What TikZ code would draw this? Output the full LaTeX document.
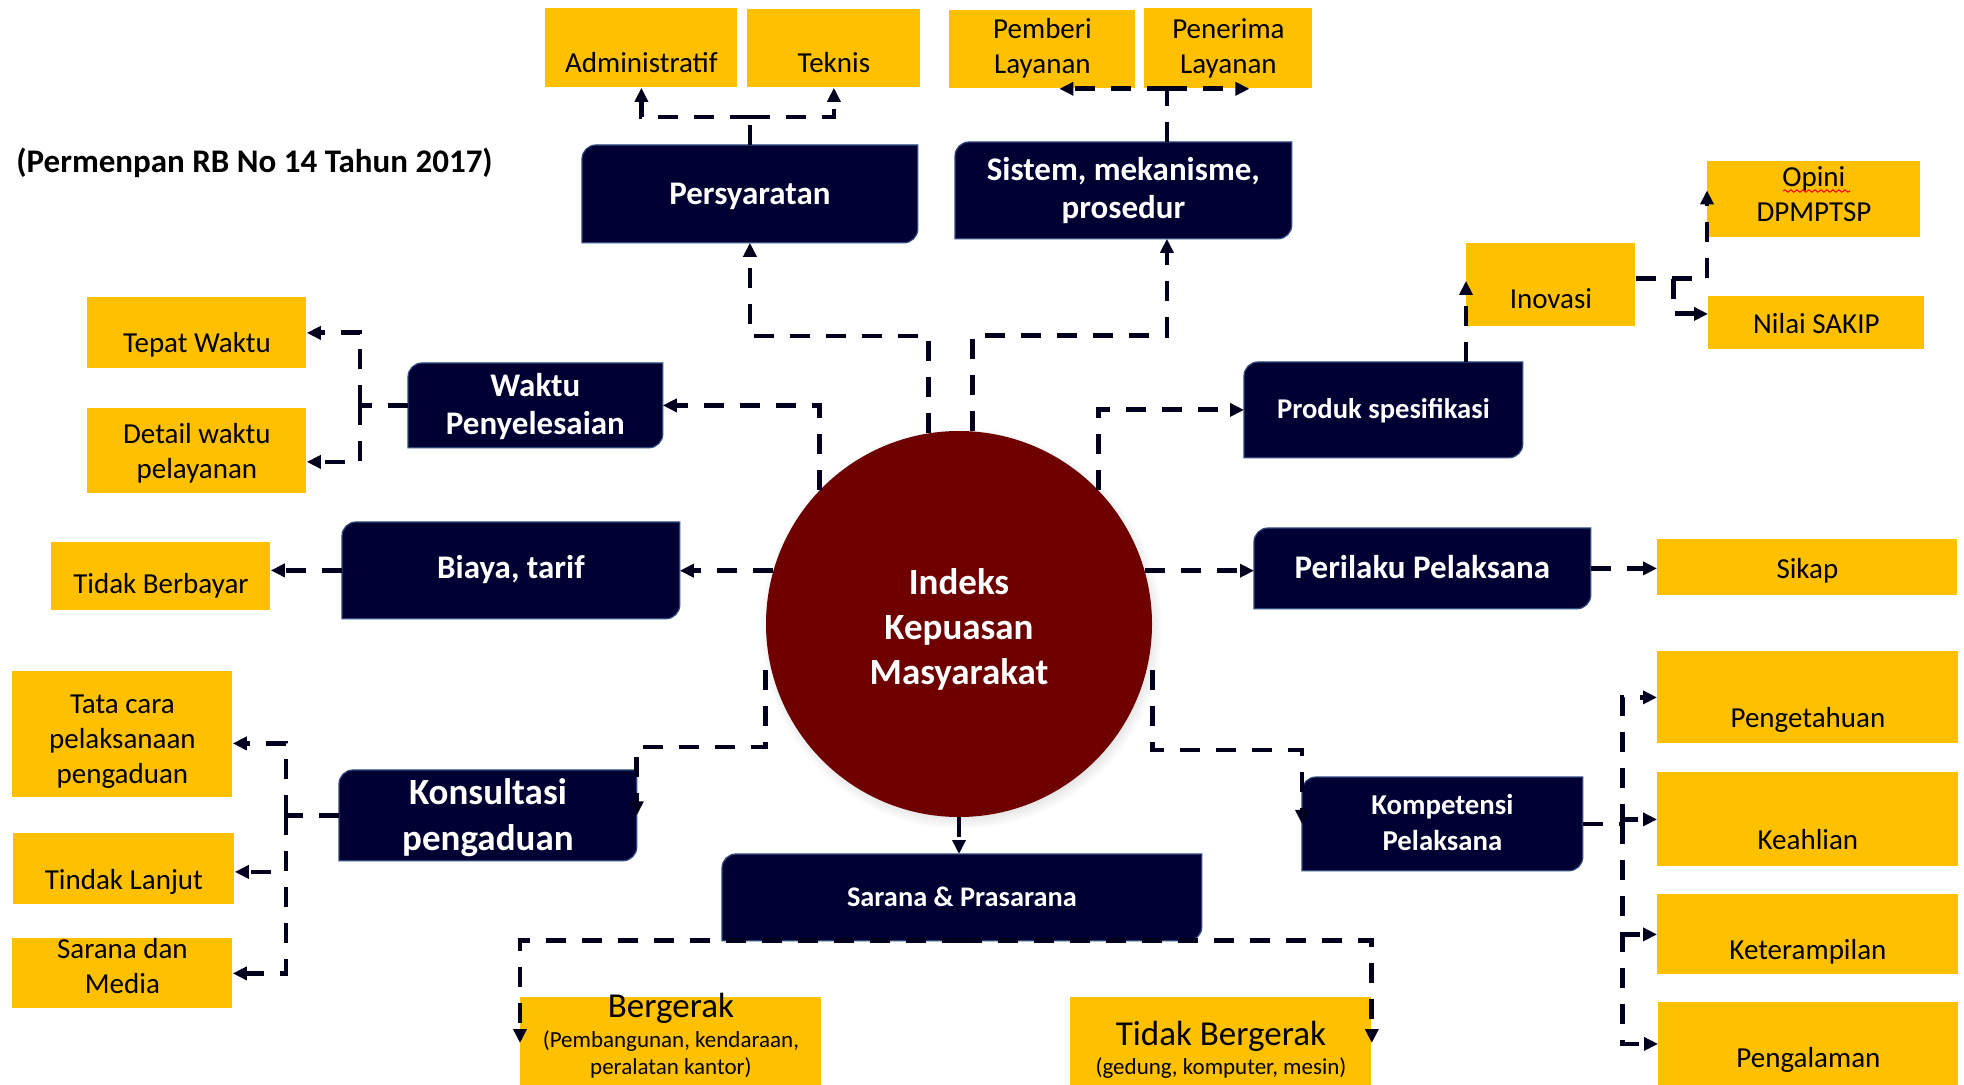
\documentclass[tikz,border=0pt]{standalone}
\usepackage{fontspec}
\setmainfont{Carlito}
\usetikzlibrary{arrows.meta,shadows,backgrounds,decorations.pathmorphing}
\definecolor{gold}{HTML}{FFC000}
\definecolor{navy}{HTML}{000033}
\definecolor{navyedge}{HTML}{2E4A7D}
\definecolor{maroon}{HTML}{6E0000}
\definecolor{lineink}{HTML}{00001E}
\begin{document}
\begin{tikzpicture}[x=0.5pt,y=-0.5pt,
  yel/.style={fill=gold,anchor=north west,inner sep=0pt,align=flush center,font=\fontsize{14.5}{17.5}\selectfont},
  dk/.style={anchor=north west,inner sep=0pt,align=flush center,text=white,font=\bfseries\fontsize{16.5}{19}\selectfont},
  link/.style={draw=lineink,line width=2.4pt,dash pattern=on 10pt off 8pt},
  conn/.style={link,-{Triangle[length=7pt,width=6.5pt]}}]
  \useasboundingbox (0,0) rectangle (1964,1085);

  \node[anchor=base west,inner sep=0pt,font=\bfseries\fontsize{16.5}{19}\selectfont] (ttl) at (16,173) {(Permenpan RB No 14 Tahun 2017)};

  \node[circle,fill=maroon,minimum size=193pt,inner sep=0pt,align=center,text=white,
    font=\bfseries\fontsize{18.5}{22.5}\selectfont,
    circular drop shadow={shadow xshift=1pt,shadow yshift=-2pt,shadow scale=1.04,opacity=0.45}] (ikm) at (959,624) {\\[-4pt]Indeks\\Kepuasan\\Masyarakat};

  \node[dk,text width=167.5pt,text height=29.5pt,text depth=19pt] (pers) at (582,145) {Persyaratan};
  \node[dk,text width=168pt,text height=19pt,text depth=29pt] (sist) at (955,142) {Sistem, mekanisme,\\prosedur};
  \node[dk,text width=127pt,text height=16.5pt,text depth=25.5pt] (wakt) at (408,363) {Waktu\\Penyelesaian};
  \node[dk,text width=139pt,text height=28pt,text depth=19.5pt,font=\bfseries\fontsize{14.3}{17}\selectfont] (prod) at (1244,362) {Produk spesifikasi};
  \node[dk,text width=168.5pt,text height=28pt,text depth=20pt] (biay) at (342,522) {Biaya, tarif};
  \node[dk,text width=168pt,text height=25pt,text depth=15pt] (peri) at (1254,528) {Perilaku Pelaksana};
  \node[dk,text width=148.5pt,text height=17pt,text depth=28pt,font=\bfseries\fontsize{18.5}{23}\selectfont] (kons) at (339,770) {Konsultasi\\pengaduan};
  \node[dk,text width=140pt,text height=18.5pt,text depth=28pt,font=\bfseries\fontsize{14.4}{18}\selectfont] (komp) at (1302,777) {Kompetensi\\Pelaksana};
  \node[dk,text width=239.5pt,text height=26pt,text depth=17pt,font=\bfseries\fontsize{14.2}{17}\selectfont] (sarp) at (722,854) {Sarana \& Prasarana};

  \begin{scope}[on background layer]
    \foreach \n in {pers,sist,wakt,prod,biay,peri,kons,komp,sarp}
      \filldraw[fill=navy,draw=navyedge,line width=0.6pt] (\n.south west) -- ([yshift=-7pt]\n.north west)
        arc[start angle=180,end angle=90,radius=7pt] -- (\n.north east) -- ([yshift=7pt]\n.south east)
        arc[start angle=0,end angle=-90,radius=7pt] -- cycle;
  \end{scope}

  \node[yel,text width=96pt,text height=32pt,text depth=7.5pt] (adm) at (545,8) {Administratif};
  \node[yel,text width=86.5pt,text height=31.5pt,text depth=7.5pt] (tek) at (747,9) {Teknis};
  \node[yel,text width=93pt,text height=14pt,text depth=25pt] (pem) at (949,10) {Pemberi\\Layanan};
  \node[yel,text width=84pt,text height=15pt,text depth=25pt] (pen) at (1144,8) {Penerima\\Layanan};
  \node[yel,text width=106.5pt,text height=12.5pt,text depth=25.5pt] (opi) at (1707,161) {Opini\\DPMPTSP};
  \node[yel,text width=84.5pt,text height=32.5pt,text depth=9pt] (ino) at (1466,243) {Inovasi};
  \node[yel,text width=108pt,text height=18.5pt,text depth=8pt] (nil) at (1708,296) {Nilai SAKIP};
  \node[yel,text width=109.5pt,text height=27.5pt,text depth=8pt] (tep) at (87,297) {Tepat Waktu};
  \node[yel,text width=109.5pt,text height=17.5pt,text depth=25pt] (det) at (87,408) {Detail waktu\\pelayanan};
  \node[yel,text width=109.5pt,text height=25.5pt,text depth=8.5pt] (tib) at (51,542) {Tidak Berbayar};
  \node[yel,text width=150pt,text height=19.5pt,text depth=8.5pt] (sik) at (1657,539) {Sikap};
  \node[yel,text width=110pt,text height=21pt,text depth=42pt] (tat) at (12,671) {Tata cara\\pelaksanaan\\pengaduan};
  \node[yel,text width=110.5pt,text height=28pt,text depth=7.5pt] (tin) at (13,833) {Tindak Lanjut};
  \node[yel,text width=110pt,text height=10pt,text depth=25pt] (sam) at (12,938) {Sarana dan\\Media};
  \node[yel,text width=150.5pt,text height=38pt,text depth=8pt] (pgt) at (1657,651) {Pengetahuan};
  \node[yel,text width=150.5pt,text height=38.5pt,text depth=8.5pt] (kea) at (1657,772) {Keahlian};
  \node[yel,text width=150.5pt,text height=32.5pt,text depth=7.5pt] (ket) at (1657,894) {Keterampilan};
  \node[yel,text width=150pt,text height=32.5pt,text depth=9pt] (pgl) at (1658,1002) {Pengalaman};
  \node[yel,text width=150.5pt,text height=10pt,text depth=34pt,font=\fontsize{11.5}{13.5}\selectfont] (ber) at (520,997)
    {{\fontsize{17.5}{13.5}\selectfont Bergerak}\\[1.5pt](Pembangunan, kendaraan,\\peralatan kantor)};
  \node[yel,text width=150.5pt,text height=24pt,text depth=20pt,font=\fontsize{11.5}{13.5}\selectfont] (tbg) at (1070,997)
    {{\fontsize{17.5}{13.5}\selectfont Tidak Bergerak}\\[1pt](gedung, komputer, mesin)};

  \draw[red,line width=0.5pt,decorate,decoration={snake,amplitude=0.6pt,segment length=3pt}] (1783,191) -- (1850,191);

  \coordinate (sistdn) at ([xshift=21.75pt]sist.south);
  \coordinate (sistup) at ([xshift=21.75pt]sist.north);
  \coordinate (ij) at ([xshift=19pt,yshift=3pt]ino.east);

  \draw[conn] (ikm.99) -- ++(0,-97) -| (pers.south);
  \draw[conn] (ikm.86) -- ++(0,-95.5) -| (sistdn);
  \draw[link] (pers.north) -- ++(0,-28) coordinate (pj);
  \draw[conn] (pj) -| (adm.south);
  \draw[conn] (pj) -| (tek.south);
  \draw[link] (sistup) -- (sistup |- pem.south) coordinate (sj);
  \draw[conn] (sj) -- ([xshift=8.5pt]pem.south);
  \draw[conn] (sj) -- ([xshift=10.5pt]pen.south);

  \draw[conn] (ikm.136) |- (wakt.east);
  \draw[conn] (ikm.44) |- (prod.west);
  \draw[conn] (ikm.164) -- (ikm.164 -| biay.east);
  \draw[conn] (ikm.16) -- (ikm.16 -| peri.west);
  \draw[conn] ([yshift=-23pt]ikm.west) -- ++(0,77) -| (kons.east);
  \draw[conn] ([yshift=-23pt]ikm.east) -- ++(0,80) -| (komp.west);
  \draw[conn] (ikm.south) -- (ikm.south |- sarp.north);
  \draw[conn] (sarp.south) -| ([yshift=-23pt]ber.north west);
  \draw[conn] (sarp.south) -| ([yshift=-23pt]tbg.north east);

  \draw[link] (wakt.west) -- ++(-48,0) coordinate (wj);
  \draw[conn] (wj) |- (tep.east);
  \draw[conn] (wj) |- ([yshift=-5.5pt]det.east);
  \draw[conn] (biay.west) -- (biay.west -| tib.east);
  \draw[link] (kons.west) -- ++(-53,0) coordinate (kj);
  \draw[conn] (kj) |- ([yshift=-4.5pt]tat.east);
  \draw[conn] (kj) |- ([yshift=-1.5pt]tin.east);
  \draw[conn] (kj) |- (sam.east);

  \draw[conn] (prod.north -| ino.west) -- ([yshift=2pt]ino.west);
  \draw[conn] ([yshift=3pt]ino.east) -| ([yshift=4.5pt]opi.west);
  \draw[conn] (ij) |- ([yshift=4.5pt]nil.west);
  \draw[conn] (peri.east) -- (peri.east -| sik.west);
  \draw[link] (komp.east) -- ++(40,0) coordinate (kp);
  \draw[conn] (kp) |- (pgt.west);
  \draw[conn] (kp) |- (kea.west);
  \draw[conn] (kp) |- (ket.west);
  \draw[conn] (kp) |- (pgl.west);
\end{tikzpicture}
\end{document}
